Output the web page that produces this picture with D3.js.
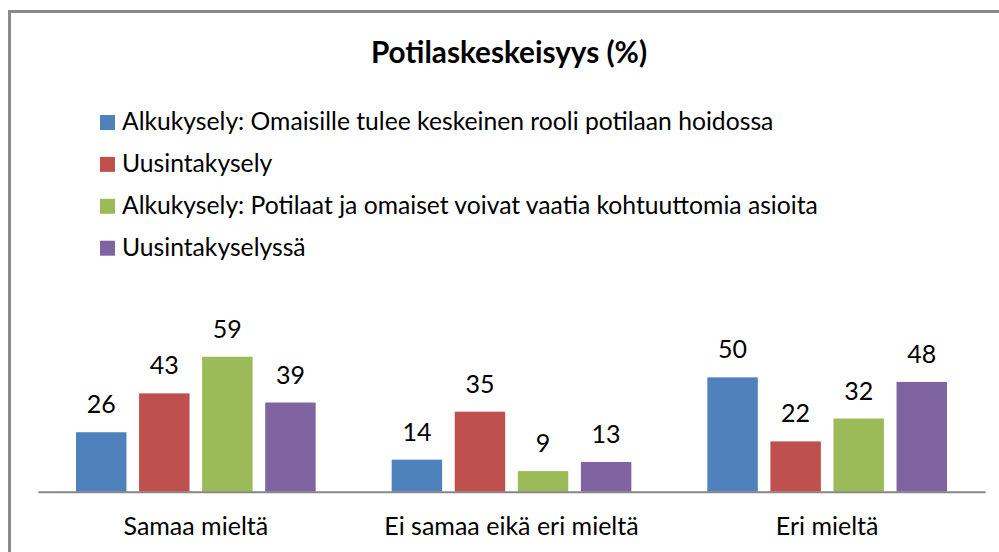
<!DOCTYPE html>
<html>
<head>
<meta charset="utf-8">
<script src="https://cdn.jsdelivr.net/npm/d3@7"></script>
<style>
  html, body { margin: 0; padding: 0; background: #fff; }
  svg { display: block; font-family: Lato, "Open Sans", sans-serif; }
</style>
</head>
<body>
<svg id="chart" width="999" height="552"></svg>
<script>
const title = "Potilaskeskeisyys (%)";
const categories = ["Samaa mieltä", "Ei samaa eikä eri mieltä", "Eri mieltä"];
const seriesNames = [
  "Alkukysely: Omaisille tulee keskeinen rooli potilaan hoidossa",
  "Uusintakysely",
  "Alkukysely: Potilaat ja omaiset voivat vaatia kohtuuttomia asioita",
  "Uusintakyselyssä"
];
const seriesColors = ["#4F81BD", "#C0504D", "#9BBB59", "#8064A2"];
const alkuOmaiset = [26, 14, 50];
const uusintaOmaiset = [43, 35, 22];
const alkuKohtuuttomat = [59, 9, 32];
const uusintaKohtuuttomat = [39, 13, 48];
const seriesValues = [alkuOmaiset, uusintaOmaiset, alkuKohtuuttomat, uusintaKohtuuttomat];

const svg = d3.select("#chart");

// chart area frame
svg.append("rect")
  .attr("x", 9.5).attr("y", 11.5)
  .attr("width", 1100).attr("height", 700)
  .attr("fill", "none").attr("stroke", "#898989").attr("stroke-width", 3);

// title
svg.append("text")
  .attr("x", 509).attr("y", 63)
  .attr("text-anchor", "middle")
  .attr("font-weight", "bold")
  .attr("font-size", 29.7)
  .attr("fill", "#000")
  .text(title);

// legend
const legend = svg.append("g");
const legendRows = legend.selectAll("g")
  .data(seriesNames)
  .join("g")
  .attr("transform", (d, i) => `translate(100, ${130 + i * 41.9})`);
legendRows.append("rect")
  .attr("x", 0).attr("y", -15)
  .attr("width", 15).attr("height", 15)
  .attr("fill", (d, i) => seriesColors[i]);
legendRows.append("text")
  .attr("x", 22).attr("y", 0)
  .attr("font-size", 24.7)
  .attr("fill", "#000")
  .text(d => d);

// scales
const x0 = d3.scaleBand()
  .domain(categories)
  .range([38, 985]);
const x1 = d3.scaleBand()
  .domain(d3.range(seriesNames.length))
  .range([38, x0.bandwidth() - 38])
  .paddingInner(0.2);
const y = d3.scaleLinear()
  .domain([0, 70])
  .range([491.7, 491.7 - 70 * 2.287]);

// bars and value labels
const groups = svg.append("g")
  .selectAll("g")
  .data(categories)
  .join("g")
  .attr("transform", d => `translate(${x0(d)},0)`);

groups.selectAll("rect")
  .data((d, ci) => seriesValues.map((vals, si) => ({ si, v: vals[ci] })))
  .join("rect")
  .attr("x", d => x1(d.si))
  .attr("width", x1.bandwidth())
  .attr("y", d => y(d.v))
  .attr("height", d => y(0) - y(d.v))
  .attr("fill", d => seriesColors[d.si]);

groups.selectAll("text")
  .data((d, ci) => seriesValues.map((vals, si) => ({ si, v: vals[ci] })))
  .join("text")
  .attr("x", d => x1(d.si) + x1.bandwidth() / 2)
  .attr("y", d => y(d.v) - 19)
  .attr("text-anchor", "middle")
  .attr("font-size", 25)
  .attr("fill", "#000")
  .text(d => d.v);

// category axis
const xAxis = svg.append("g")
  .attr("transform", `translate(0, ${y(0)})`)
  .call(d3.axisBottom(x0).tickSize(0).tickPadding(0));
xAxis.select(".domain").attr("stroke", "#868686").attr("stroke-width", 2);
xAxis.selectAll("text")
  .attr("dy", null)
  .attr("y", 43.5)
  .attr("font-size", 25)
  .attr("font-family", "Lato, 'Open Sans', sans-serif")
  .attr("fill", "#000");
</script>
</body>
</html>
